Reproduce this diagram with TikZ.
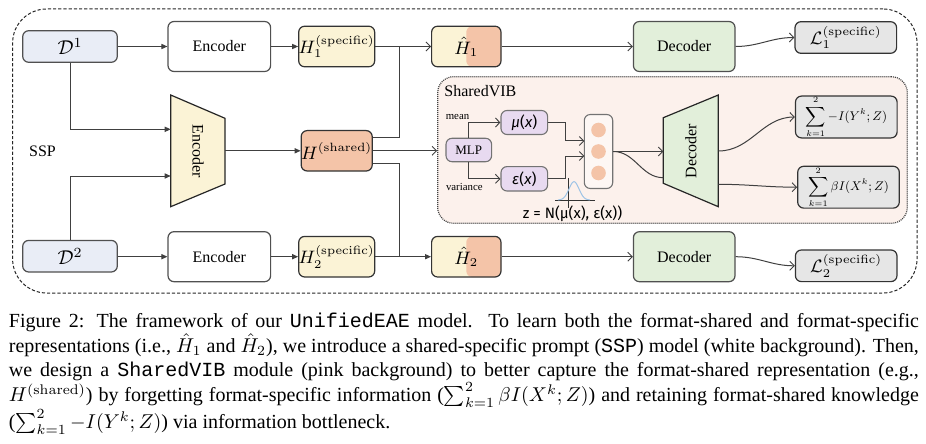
\documentclass[tikz,border=0pt]{standalone}
\usepackage{graphicx}
\usepackage[no-math]{fontspec}
\setmainfont{Liberation Serif}
\setmonofont{Liberation Mono}
\newfontfamily\zfont{Fira Sans}
\usetikzlibrary{arrows.meta,calc}
\definecolor{dblue}{HTML}{E9EDF6}
\definecolor{hyel}{HTML}{FBF3D6}
\definecolor{hsal}{HTML}{F4C4A8}
\definecolor{dgreen}{HTML}{E2EFDA}
\definecolor{lgray}{HTML}{E6E6E6}
\definecolor{vibpink}{HTML}{FCF1EC}
\definecolor{lav}{HTML}{E8DAF0}
\definecolor{gausscol}{HTML}{9DC3E6}
\definecolor{lnc}{HTML}{404040}
\definecolor{bdc}{HTML}{505050}
\begin{document}
\begin{tikzpicture}[x=0.5pt,y=-0.5pt,
  box/.style={draw=bdc, line width=0.6pt, rounded corners=3pt, inner sep=0pt, align=center},
  conn/.style={draw=lnc, line width=0.5pt},
  fa/.style={-{Triangle[length=3pt,width=2.6pt]}},
  oa/.style={-{Straight Barb[length=2.2pt,width=4.5pt,line width=0.45pt]}},
  lbl/.style={font=\fontsize{8}{9}\selectfont},
  mlbl/.style={font=\fontsize{9}{10}\selectfont},
  hatbox/.style={box, draw=black!80, fill=hyel, minimum width=34.7pt, minimum height=20.3pt, mlbl,
    path picture={\fill[hsal] (path picture bounding box.south) rectangle (path picture bounding box.north east);}},
  encbox/.style={box, fill=white, minimum width=51.3pt, minimum height=25pt, lbl},
  decbox/.style={box, fill=dgreen, minimum width=50.8pt, minimum height=25pt, lbl},
  dbox/.style={box, fill=dblue, minimum width=47.3pt, minimum height=15.8pt, font=\fontsize{10}{11}\selectfont},
  hbox/.style={box, draw=black!80, minimum width=35pt, minimum height=20.3pt, mlbl},
  lbox/.style={box, draw=black!80, fill=lgray, minimum width=50.8pt},
  vbox/.style={box, draw=black!55, fill=lav, line width=0.55pt},
]
\useasboundingbox (0,0) rectangle (926,444);

% regions
\node[draw=black!85, dash pattern=on 1.6pt off 1pt, line width=0.5pt, rounded corners=17pt,
  minimum width=452.2pt, minimum height=142pt, inner sep=0pt] (outer) at (464.8,151) {};
\node[draw=black!75, dash pattern=on 0.5pt off 0.5pt, line width=0.6pt, fill=vibpink, rounded corners=8pt,
  minimum width=234.8pt, minimum height=73.3pt, inner sep=0pt] (VIB) at (672.5,150) {};
\node[lbl, anchor=west, inner sep=0pt] (vibtxt) at (444,91.5) {SharedVIB};
\node[lbl, inner sep=0pt] (ssp) at (42.5,151.5) {SSP};

% top / bottom rows
\node[dbox] (D1) at (70,46.5) {$\mathcal{D}^1$};
\node[dbox] (D2) at (70,256.2) {$\mathcal{D}^2$};
\node[encbox] (Enc1) at (219.3,46.5) {Encoder};
\node[encbox] (Enc2) at (219.3,256.7) {Encoder};
\node[hbox, fill=hyel] (H1s) at (336.7,46.5) {$H_1^{(\mathrm{specific})}$};
\node[hbox, fill=hyel] (H2s) at (336.7,256.7) {$H_2^{(\mathrm{specific})}$};
\node[hbox, fill=hsal, minimum height=20.2pt] (Hsh) at (336.7,150.8) {$H^{(\mathrm{shared})}$};
\node[hatbox] (Hh1) at (466.3,46.5) {$\hat{H}_1$};
\node[hatbox] (Hh2) at (466.3,256.7) {$\hat{H}_2$};
\node[decbox] (Dec1) at (684.2,46.5) {Decoder};
\node[decbox] (Dec2) at (684.2,256.7) {Decoder};
\node[lbox, minimum height=15.8pt, mlbl] (L1) at (845.8,37.5) {$\mathcal{L}_1^{(\mathrm{specific})}$};
\node[lbox, minimum height=15.8pt, mlbl] (L2) at (846.2,265.8) {$\mathcal{L}_2^{(\mathrm{specific})}$};

% encoder trapezoid
\coordinate (eTL) at (170.7,95);
\coordinate (eTR) at (225,118.3);
\coordinate (eBR) at (225,184);
\coordinate (eBL) at (170.7,206.7);
\draw[fill=hyel, draw=black!85, line width=0.6pt] (eTL) -- (eTR) -- (eBR) -- (eBL) -- cycle;
\node[lbl, rotate=-90] (enctxt) at (198,151) {Encoder};
\coordinate (encL1) at (170.7,129.3);
\coordinate (encL2) at (170.7,176);
\coordinate (encR) at (225,150.8);

% shared VIB content
\node[vbox, minimum width=22.8pt, minimum height=11.7pt, font=\fontsize{6.5}{7}\selectfont] (MLP) at (468.8,150) {MLP};
\node[vbox, minimum width=23.3pt, minimum height=12pt, font=\zfont\fontsize{7.5}{8}\selectfont] (mu) at (524.3,122.5) {{\itshape μ}({\itshape x})};
\node[vbox, minimum width=23.3pt, minimum height=12.2pt, font=\zfont\fontsize{7.5}{8}\selectfont] (eps) at (524.3,178.8) {{\itshape ε}({\itshape x})};
\node[font=\fontsize{5.4}{6}\selectfont, inner sep=0pt] (mean) at (457.5,117.5) {mean};
\node[font=\fontsize{5.4}{6}\selectfont, inner sep=0pt] (var) at (464.3,186.5) {variance};
\node[box, draw=black!55, fill=vibpink!60, line width=0.55pt, minimum width=14.2pt, minimum height=37pt] (zbox) at (598.5,151.5) {};
\node[circle, fill=hsal, minimum size=7.3pt, inner sep=0pt] (c1) at (598.5,130) {};
\node[circle, fill=hsal, minimum size=7.3pt, inner sep=0pt] (c2) at (598.5,151.5) {};
\node[circle, fill=hsal, minimum size=7.3pt, inner sep=0pt] (c3) at (598.5,173) {};
\coordinate (zin1) at (584.3,141);
\coordinate (zin2) at (584.3,156);

% gaussian
\draw[black!80, line width=0.5pt] (555,200) -- (595,200);
\draw[black!80, line width=0.5pt] (568.3,178.3) -- (568.3,207.7);
\draw[gausscol, line width=0.5pt] plot[domain=558:590, samples=50] (\x, {200 - 18.3*exp(-((\x-574)^2)/50)});
\node[font=\zfont\fontsize{7.5}{8}\selectfont, inner sep=0pt] (ztxt) at (572.5,214) {z = N(μ(x), ε(x))};

% decoder trapezoid
\coordinate (dTL) at (663.3,117.7);
\coordinate (dTR) at (718.3,95);
\coordinate (dBR) at (718.3,206.7);
\coordinate (dBL) at (663.3,183.3);
\draw[fill=dgreen, draw=black!85, line width=0.6pt] (dTL) -- (dTR) -- (dBR) -- (dBL) -- cycle;
\node[lbl, rotate=90] (dectxt) at (690.8,151) {Decoder};
\coordinate (decL1) at (663.3,151.5);
\coordinate (decL2) at (663.3,177.7);
\coordinate (decR1) at (718.3,151);
\coordinate (decR2) at (718.3,184.3);

% loss boxes
\node[lbox, minimum height=20.3pt, font=\fontsize{9}{10}\selectfont] (S1) at (846.3,117) {\scalebox{0.7}{$\displaystyle\sum_{k=1}^{2} -I(Y^k;Z)$}};
\node[lbox, minimum height=20.5pt, font=\fontsize{9}{10}\selectfont] (S2) at (848.5,187.2) {\scalebox{0.7}{$\displaystyle\sum_{k=1}^{2} \beta I(X^k;Z)$}};

% connectors
\draw[conn,fa] (D1.east) -- (Enc1.west);
\draw[conn,fa] (Enc1.east) -- (H1s.west);
\draw[conn,fa] (D2.east |- Enc2.west) -- (Enc2.west);
\draw[conn,fa] (Enc2.east) -- (H2s.west);
\draw[conn,fa] (D1.south) |- (encL1);
\draw[conn,fa] (D2.north) |- (encL2);
\draw[conn,fa] (encR) -- (Hsh.west);
\draw[conn,oa] (H1s.east) -- (Hh1.west);
\coordinate (j1) at (399,46.5);
\coordinate (j2) at (399,256.7);
\draw[conn] ([yshift=6.5pt]Hsh.east) -| (j1);
\draw[conn] ([yshift=-6.3pt]Hsh.east) -| (j2);
\draw[conn,oa] (Hsh.east) -- (Hsh.east -| VIB.west);
\draw[conn,fa] (H2s.east) -- (Hh2.west);
\draw[conn,oa] (Hh1.east) -- (Dec1.west);
\draw[conn,oa] (Hh2.east) -- (Dec2.west);
\draw[conn,oa] (Dec1.east) to[out=0,in=180] (L1.west);
\draw[conn,oa] (Dec2.east) to[out=0,in=180] (L2.west);
\draw[conn,oa] (MLP.north) |- (mu.west);
\draw[conn,oa] (MLP.south) |- (eps.west);
\draw[conn,oa] (mu.east) -- ++(17.3,0) |- (zin1);
\draw[conn,oa] (eps.east) -- ++(17.3,0) |- (zin2);
\draw[conn,oa] (zbox.east) -- (decL1);
\draw[conn] (zbox.east) to[out=0,in=180] (decL2);
\draw[conn,oa] (decR1) to[out=0,in=180] (S1.west);
\draw[conn,oa] (decR2) to[out=0,in=180] (S2.west);

% caption
\node[anchor=north west, inner sep=0pt, align=left, font=\fontsize{10}{12.25}\selectfont] (cap) at (8.5,313) {%
\hbox to 455pt{Figure 2: The framework of our \texttt{UnifiedEAE} model.\ \ To learn both the format-shared and format-specific}\\
\hbox to 455pt{representations (i.e., $\hat{H}_1$ and $\hat{H}_2$), we introduce a shared-specific prompt (\texttt{SSP}) model (white background). Then,}\\
\hbox to 455pt{we design a \texttt{SharedVIB} module (pink background) to better capture the format-shared representation (e.g.,}\\
\hbox to 455pt{$H^{(\mathrm{shared})}$) by forgetting format-specific information ($\sum_{k=1}^{2}\beta I(X^k;Z)$) and retaining format-shared knowledge}\\
\hbox{($\sum_{k=1}^{2}-I(Y^k;Z)$) via information bottleneck.}};
\end{tikzpicture}
\end{document}
